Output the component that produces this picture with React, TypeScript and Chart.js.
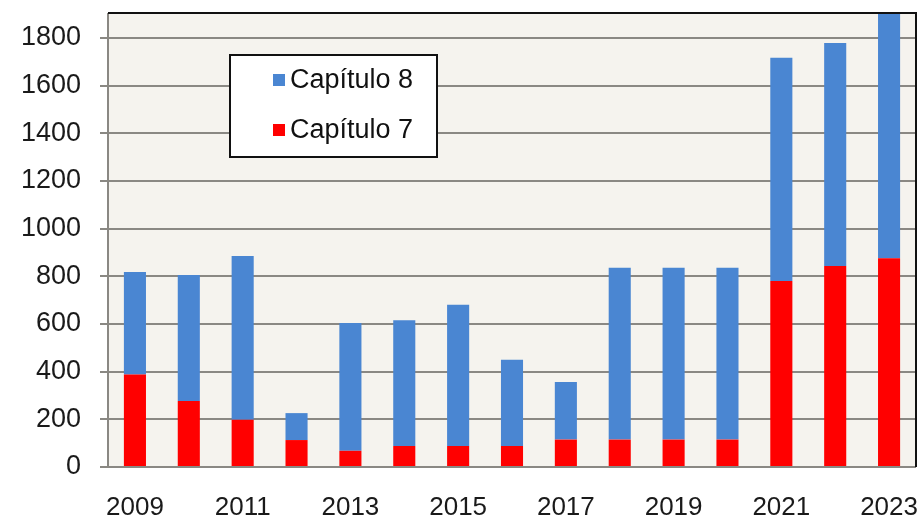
import React, { useEffect, useRef } from "react";
import { Chart, registerables } from "chart.js";

Chart.register(...registerables);

const years = ["2009", "2010", "2011", "2012", "2013", "2014", "2015", "2016", "2017", "2018", "2019", "2020", "2021", "2022", "2023"];
const capitulo7 = [388, 277, 198, 113, 68, 88, 88, 88, 115, 115, 115, 115, 780, 843, 876];
const capitulo8 = [430, 528, 687, 113, 536, 528, 592, 362, 242, 721, 721, 721, 936, 935, 1024];
const yTickValues = [0, 200, 400, 600, 800, 1000, 1200, 1400, 1600, 1800];
const yMin = 0;
const yMax = 1900;

const BLUE = "#4a86d2";
const RED = "#ff0000";
const GRID = "#8a8883";
const FONT = "'Liberation Sans', Arial, sans-serif";

const framePlugin = {
  id: "frame",
  beforeDraw(chart: any) {
    const { ctx, chartArea: a } = chart;
    ctx.save();
    ctx.fillStyle = "#ffffff";
    ctx.fillRect(0, 0, chart.width, chart.height);
    ctx.fillStyle = "#f5f3ee";
    ctx.fillRect(a.left, a.top, a.right - a.left, a.bottom - a.top);
    ctx.restore();
  },
  afterDraw(chart: any) {
    const { ctx, chartArea: a } = chart;
    ctx.save();
    ctx.strokeStyle = "#111111";
    ctx.lineWidth = 2;
    ctx.beginPath();
    ctx.moveTo(a.left, a.top - 1);
    ctx.lineTo(a.right, a.top - 1);
    ctx.lineTo(a.right, a.bottom);
    ctx.stroke();

    // legend box
    const lx = a.left + 122;
    const ly = a.top + 41;
    const lw = 207;
    const lh = 102;
    ctx.fillStyle = "#ffffff";
    ctx.fillRect(lx, ly, lw, lh);
    ctx.strokeStyle = "#111111";
    ctx.lineWidth = 2;
    ctx.strokeRect(lx, ly, lw, lh);
    const items = [
      { label: "Capítulo 8", color: BLUE, cy: ly + 25 },
      { label: "Capítulo 7", color: RED, cy: ly + 75 },
    ];
    ctx.font = `27px ${FONT}`;
    ctx.textBaseline = "middle";
    ctx.textAlign = "left";
    for (const it of items) {
      ctx.fillStyle = it.color;
      ctx.fillRect(lx + 43, it.cy - 6, 12, 12);
      ctx.fillStyle = "#111111";
      ctx.fillText(it.label, lx + 60, it.cy + 1);
    }
    ctx.restore();
  },
};

export default function App() {
  const ref = useRef<HTMLCanvasElement | null>(null);
  useEffect(() => {
    document.body.style.margin = "0";
    const canvas = ref.current;
    if (!canvas) return;
    const chart = new Chart(canvas, {
      type: "bar",
      data: {
        labels: years,
        datasets: [
          {
            label: "Capítulo 7",
            data: capitulo7,
            backgroundColor: RED,
            categoryPercentage: 1,
            barPercentage: 0.41,
          },
          {
            label: "Capítulo 8",
            data: capitulo8,
            backgroundColor: BLUE,
            categoryPercentage: 1,
            barPercentage: 0.41,
          },
        ],
      },
      options: {
        animation: false,
        responsive: false,
        devicePixelRatio: 1,
        layout: { padding: { left: 0, right: 4, top: 14, bottom: 0 } },
        plugins: {
          legend: { display: false },
          tooltip: { enabled: false },
        },
        scales: {
          x: {
            stacked: true,
            grid: { display: false, drawTicks: false },
            border: { display: false },
            ticks: {
              autoSkip: false,
              maxRotation: 0,
              minRotation: 0,
              padding: 25,
              color: "#1a1a1a",
              font: { family: FONT, size: 26 },
              callback: (_v: any, i: number) => (i % 2 === 0 ? years[i] : ""),
            },
            afterFit: (s: any) => {
              s.height = 50;
              s.paddingLeft = 0;
              s.paddingRight = 0;
            },
          },
          y: {
            stacked: true,
            min: yMin,
            max: yMax,
            afterBuildTicks: (axis: any) => {
              axis.ticks = yTickValues.map((v) => ({ value: v }));
            },
            grid: {
              color: GRID,
              lineWidth: 2,
              tickLength: 8,
              drawTicks: true,
            },
            border: { display: true, color: GRID, width: 2 },
            ticks: {
              padding: 19,
              color: "#1a1a1a",
              font: { family: FONT, size: 27 },
              callback: (v: any) => String(v),
            },
            afterFit: (s: any) => {
              s.width = 108;
              s.paddingTop = 0;
              s.paddingBottom = 0;
            },
          },
        },
      },
      plugins: [framePlugin],
    });
    return () => chart.destroy();
  }, []);
  return (
    <div style={{ width: 920, height: 517 }}>
      <canvas ref={ref} width={920} height={517} style={{ display: "block" }} />
    </div>
  );
}
